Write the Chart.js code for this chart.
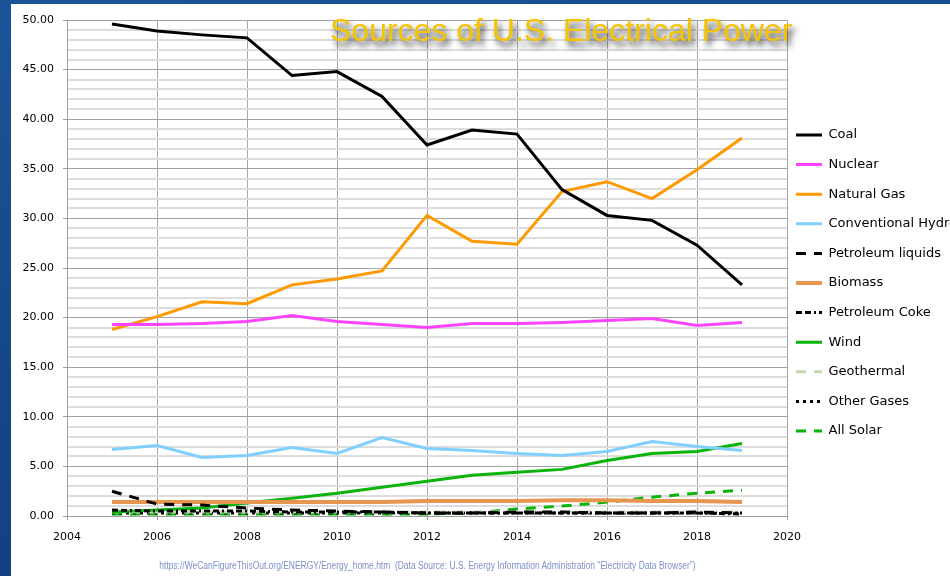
<!DOCTYPE html>
<html>
<head>
<meta charset="utf-8">
<title>Sources of U.S. Electrical Power</title>
<script src="https://cdn.jsdelivr.net/npm/chart.js@4.4.1/dist/chart.umd.min.js"></script>
<style>
  html, body { margin: 0; padding: 0; width: 950px; height: 576px; overflow: hidden; }
  body {
    position: relative;
    background: linear-gradient(165deg, #1d5499 0%, #15468a 45%, #0e3a7c 100%);
  }
  #panel { position: absolute; left: 11px; top: 4px; right: 0; bottom: 0; background: #ffffff; }
  #chart { position: absolute; left: 0; top: 0; }
  #title {
    position: absolute; left: 330px; top: 14px;
    font: 32px/32px "Liberation Sans", Arial, sans-serif;
    color: #f5c400; white-space: nowrap;
    text-shadow: 3px 5px 6px rgba(20, 20, 20, 0.9);
  }
  #source {
    position: absolute; left: 0; width: 855px; top: 561px;
    text-align: center; white-space: nowrap;
    font: 10px/10px "Liberation Sans", Arial, sans-serif;
    color: #7d8fc9;
    transform: scaleX(0.845); transform-origin: 427px 0;
  }
</style>
</head>
<body>
<div id="panel"></div>
<canvas id="chart" width="950" height="576"></canvas>
<div id="title">Sources of U.S. Electrical Power</div>
<div id="source">https://WeCanFigureThisOut.org/ENERGY/Energy_home.htm&nbsp; (Data Source: U.S. Energy Information Administration “Electricity Data Browser”)</div>
<script>
// Share of U.S. electricity generation by source, percent
const years = [2005, 2006, 2007, 2008, 2009, 2010, 2011, 2012, 2013, 2014, 2015, 2016, 2017, 2018, 2019];

const coal         = [49.6, 48.9, 48.5, 48.2, 44.4, 44.8, 42.3, 37.4, 38.9, 38.5, 32.9, 30.3, 29.8, 27.3, 23.3];
const nuclear      = [19.3, 19.3, 19.4, 19.6, 20.2, 19.6, 19.3, 19.0, 19.4, 19.4, 19.5, 19.7, 19.9, 19.2, 19.5];
const naturalGas   = [18.8, 20.1, 21.6, 21.4, 23.3, 23.9, 24.7, 30.3, 27.7, 27.4, 32.7, 33.7, 32.0, 34.9, 38.1];
const hydro        = [6.7, 7.1, 5.9, 6.1, 6.9, 6.3, 7.9, 6.8, 6.6, 6.3, 6.1, 6.5, 7.5, 7.0, 6.6];
const petroLiquids = [2.5, 1.2, 1.1, 0.8, 0.6, 0.5, 0.4, 0.3, 0.3, 0.4, 0.4, 0.3, 0.3, 0.4, 0.3];
const biomass      = [1.4, 1.4, 1.4, 1.4, 1.4, 1.4, 1.4, 1.5, 1.5, 1.5, 1.6, 1.6, 1.5, 1.5, 1.4];
const petroCoke    = [0.6, 0.5, 0.5, 0.5, 0.4, 0.4, 0.4, 0.3, 0.3, 0.3, 0.3, 0.3, 0.3, 0.3, 0.2];
const wind         = [0.4, 0.6, 0.8, 1.3, 1.8, 2.3, 2.9, 3.5, 4.1, 4.4, 4.7, 5.6, 6.3, 6.5, 7.3];
const geothermal   = [0.4, 0.4, 0.4, 0.4, 0.4, 0.4, 0.4, 0.4, 0.4, 0.4, 0.4, 0.4, 0.4, 0.4, 0.4];
const otherGases   = [0.3, 0.3, 0.3, 0.3, 0.3, 0.3, 0.3, 0.3, 0.3, 0.3, 0.3, 0.3, 0.3, 0.3, 0.3];
const allSolar     = [0.2, 0.2, 0.2, 0.2, 0.2, 0.2, 0.2, 0.2, 0.3, 0.7, 1.0, 1.4, 1.9, 2.3, 2.6];

const xTicks = { min: 2004, max: 2020, step: 2 };
const yTicks = { min: 0, max: 50, major: 5, minor: 1 };

const points = vals => vals.map((v, i) => ({ x: years[i], y: v }));

function series(label, vals, color, width, dash) {
  return {
    label, data: points(vals),
    borderColor: color, backgroundColor: color,
    borderWidth: width, borderDash: dash || [],
    pointRadius: 0, pointHoverRadius: 0,
    tension: 0, fill: false
  };
}

const datasets = [
  series('Coal', coal, '#000000', 3),
  series('Nuclear', nuclear, '#ff44ff', 3),
  series('Natural Gas', naturalGas, '#ff9900', 3),
  series('Conventional Hydro', hydro, '#80cfff', 3),
  series('Petroleum liquids', petroLiquids, '#000000', 3, [10, 8]),
  series('Biomass', biomass, '#e6964f', 4),
  series('Petroleum Coke', petroCoke, '#000000', 3, [6, 3, 6, 3, 2, 3]),
  series('Wind', wind, '#0ab40a', 3),
  series('Geothermal', geothermal, '#c3d9b4', 3, [10, 8]),
  series('Other Gases', otherGases, '#000000', 3, [3, 4]),
  series('All Solar', allSolar, '#0ab40a', 3, [10, 8])
];

// pulls the legend a little closer to the plot edge
const legendNudge = {
  id: 'legendNudge',
  afterLayout(chart) {
    if (chart.legend) chart.legend.left -= 7.6;
  }
};

// legend samples drawn as short strokes in each series' own line style
function legendLabels(chart) {
  const items = Chart.defaults.plugins.legend.labels.generateLabels(chart);
  items.forEach(item => {
    const ds = chart.data.datasets[item.datasetIndex];
    item.strokeStyle = ds.borderColor;
    item.fillStyle = ds.borderColor;
    item.lineWidth = ds.borderWidth;
    item.lineDash = ds.borderDash;
    item.lineCap = 'butt';
  });
  return items;
}

const tickFont = { family: 'DejaVu Sans', size: 11 };

new Chart(document.getElementById('chart'), {
  type: 'line',
  data: { datasets },
  plugins: [legendNudge],
  options: {
    responsive: false,
    animation: false,
    events: [],
    layout: { padding: { top: 20, left: 0, right: 0, bottom: 30 } },
    plugins: {
      tooltip: { enabled: false },
      title: { display: false },
      legend: {
        position: 'right',
        align: 'center',
        maxWidth: 163,
        labels: {
          usePointStyle: true,
          pointStyle: 'line',
          pointStyleWidth: 26,
          padding: 16.6,
          color: '#000000',
          font: { family: 'DejaVu Sans', size: 13 },
          generateLabels: legendLabels
        }
      }
    },
    scales: {
      x: {
        type: 'linear',
        min: xTicks.min, max: xTicks.max,
        afterFit(scale) { scale.height = 30; },
        border: { display: true, color: '#a0a0a0', width: 1 },
        grid: { color: '#a6a6a6', lineWidth: 1, tickLength: 4, tickColor: '#a0a0a0' },
        ticks: {
          stepSize: xTicks.step,
          padding: 11,
          maxRotation: 0,
          autoSkip: false,
          color: '#000000',
          font: tickFont,
          callback: v => String(v)
        }
      },
      y: {
        type: 'linear',
        min: yTicks.min, max: yTicks.max,
        afterFit(scale) { scale.width = 67; },
        border: { display: true, color: '#a0a0a0', width: 1 },
        grid: {
          color: c => (c.tick && c.tick.value % yTicks.major === 0) ? '#a3a3a3' : '#dddddd',
          lineWidth: c => (c.tick && c.tick.value % yTicks.major === 0) ? 1 : 2,
          tickLength: 4,
          tickColor: c => (c.tick && c.tick.value % yTicks.major === 0) ? '#a0a0a0' : 'rgba(0,0,0,0)'
        },
        ticks: {
          stepSize: yTicks.minor,
          autoSkip: false,
          padding: 9,
          color: '#000000',
          font: tickFont,
          callback: v => (v % yTicks.major === 0) ? v.toFixed(2) : ''
        }
      }
    }
  }
});
</script>
</body>
</html>
